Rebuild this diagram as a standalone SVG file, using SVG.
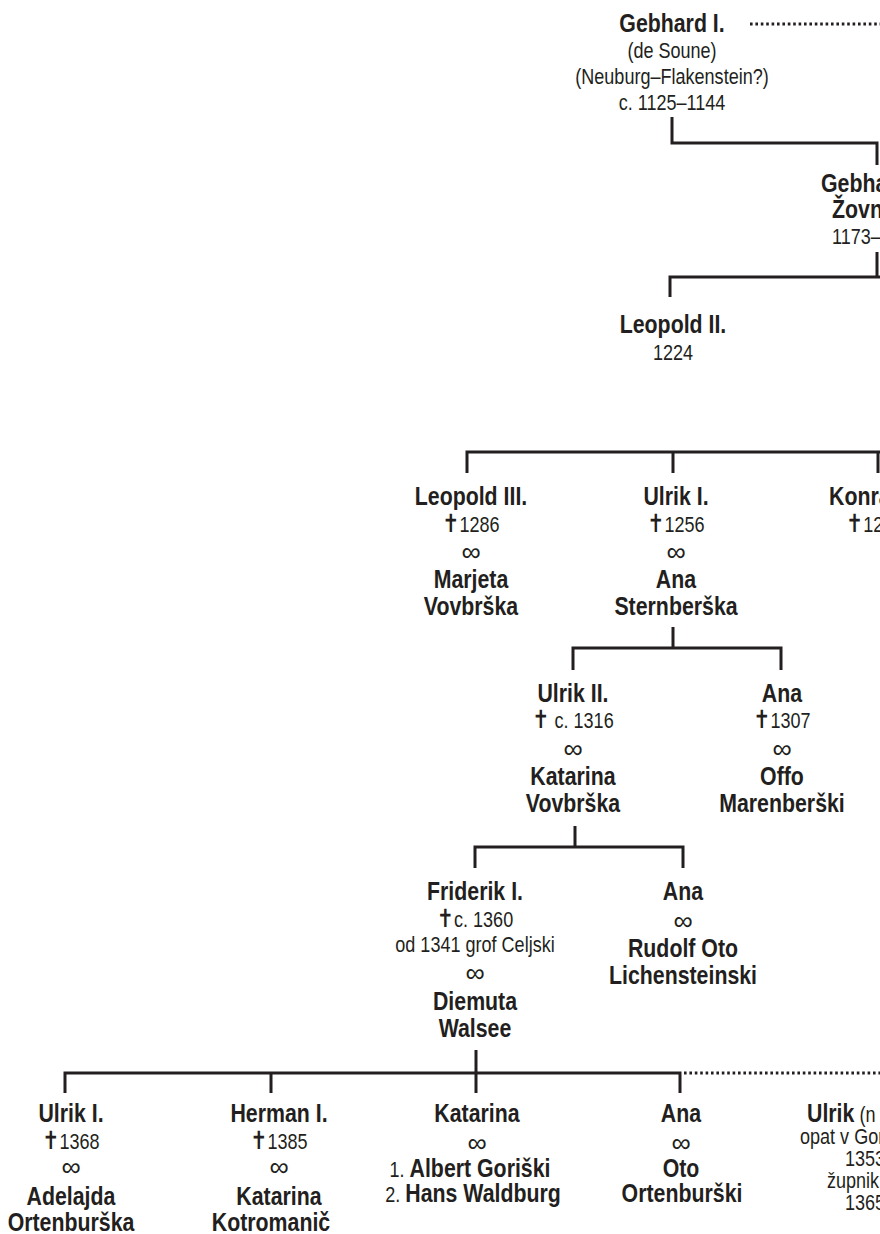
<svg xmlns="http://www.w3.org/2000/svg" width="880" height="1234" viewBox="0 0 880 1234">
<style>
text{font-family:"Liberation Sans",Arial,sans-serif;fill:#231f20;text-anchor:middle}
.b{font-weight:bold;font-size:26px}
.l{font-weight:normal;font-size:22px}
.s{text-anchor:start}
.c{font-family:"DejaVu Sans",sans-serif;font-weight:bold;font-size:25px}
.i{font-weight:normal;font-size:27px}
.ln{fill:none;stroke:#231f20;stroke-width:3}
.dot{fill:none;stroke:#231f20;stroke-width:3;stroke-dasharray:2.6 2.8}
</style>
<rect width="880" height="1234" fill="#fff"/>
<g id="connectors">
<path class="ln" d="M672,117V143H877V165"/>
<path class="ln" d="M877,252V277M880,277H670V297"/>
<path class="ln" d="M880,452H467V473M673,452V473M878,452V473"/>
<path class="ln" d="M673,627V648M573,670V648H781V670"/>
<path class="ln" d="M575,826V847M475,868V847H683V868"/>
<path class="ln" d="M476,1050V1073M65,1093V1073H680V1093M271,1073V1093M476,1073V1093"/>
<path class="dot" d="M750,24H880"/>
<path class="dot" d="M684,1073H880"/>
</g>
<g id="gebhard1">
<text class="b" transform="translate(672,32) scale(0.82,1)">Gebhard I.</text>
<text class="l" transform="translate(672,58) scale(0.82,1)">(de Soune)</text>
<text class="l" transform="translate(672,84) scale(0.82,1)">(Neuburg–Flakenstein?)</text>
<text class="l" transform="translate(672,110) scale(0.82,1)">c. 1125–1144</text>
</g>
<g id="gebhard2">
<text class="b s" transform="translate(821,192) scale(0.82,1)">Gebha</text>
<text class="b s" transform="translate(832,218) scale(0.82,1)">Žovn</text>
<text class="l s" transform="translate(832,244) scale(0.82,1)">1173–</text>
</g>
<g id="leopold2">
<text class="b" transform="translate(673,333) scale(0.82,1)">Leopold II.</text>
<text class="l" transform="translate(673,360) scale(0.82,1)">1224</text>
</g>
<g id="leopold3">
<text class="b" transform="translate(471,505) scale(0.82,1)">Leopold III.</text>
<text class="l" transform="translate(471,532) scale(0.82,1)"><tspan class="c">✝</tspan>1286</text>
<text class="i" x="471" y="561">∞</text>
<text class="b" transform="translate(471,588) scale(0.82,1)">Marjeta</text>
<text class="b" transform="translate(471,615) scale(0.82,1)">Vovbrška</text>
</g>
<g id="ulrik1">
<text class="b" transform="translate(676,505) scale(0.82,1)">Ulrik I.</text>
<text class="l" transform="translate(676,532) scale(0.82,1)"><tspan class="c">✝</tspan>1256</text>
<text class="i" x="676" y="561">∞</text>
<text class="b" transform="translate(676,588) scale(0.82,1)">Ana</text>
<text class="b" transform="translate(676,615) scale(0.82,1)">Sternberška</text>
</g>
<g id="konrad">
<text class="b s" transform="translate(829,505) scale(0.82,1)">Konra</text>
<text class="l s" transform="translate(846,532) scale(0.82,1)"><tspan class="c">✝</tspan>12</text>
</g>
<g id="ulrik2">
<text class="b" transform="translate(573,702) scale(0.82,1)">Ulrik II.</text>
<text class="l" transform="translate(573,728) scale(0.82,1)"><tspan class="c">✝</tspan> c. 1316</text>
<text class="i" x="573" y="758">∞</text>
<text class="b" transform="translate(573,785) scale(0.82,1)">Katarina</text>
<text class="b" transform="translate(573,812) scale(0.82,1)">Vovbrška</text>
</g>
<g id="ana1">
<text class="b" transform="translate(782,702) scale(0.82,1)">Ana</text>
<text class="l" transform="translate(782,728) scale(0.82,1)"><tspan class="c">✝</tspan>1307</text>
<text class="i" x="782" y="758">∞</text>
<text class="b" transform="translate(782,785) scale(0.82,1)">Offo</text>
<text class="b" transform="translate(782,812) scale(0.82,1)">Marenberški</text>
</g>
<g id="friderik1">
<text class="b" transform="translate(475,900) scale(0.82,1)">Friderik I.</text>
<text class="l" transform="translate(475,927) scale(0.82,1)"><tspan class="c">✝</tspan>c. 1360</text>
<text class="l" transform="translate(475,952) scale(0.82,1)">od 1341 grof Celjski</text>
<text class="i" x="475" y="982">∞</text>
<text class="b" transform="translate(475,1010) scale(0.82,1)">Diemuta</text>
<text class="b" transform="translate(475,1037) scale(0.82,1)">Walsee</text>
</g>
<g id="ana2">
<text class="b" transform="translate(683,900) scale(0.82,1)">Ana</text>
<text class="i" x="683" y="930">∞</text>
<text class="b" transform="translate(683,957) scale(0.82,1)">Rudolf Oto</text>
<text class="b" transform="translate(683,984) scale(0.82,1)">Lichensteinski</text>
</g>
<g id="ulrik1b">
<text class="b" transform="translate(71,1122) scale(0.82,1)">Ulrik I.</text>
<text class="l" transform="translate(71,1149) scale(0.82,1)"><tspan class="c">✝</tspan>1368</text>
<text class="i" x="71" y="1176">∞</text>
<text class="b" transform="translate(71,1205) scale(0.82,1)">Adelajda</text>
<text class="b" transform="translate(71,1231) scale(0.82,1)">Ortenburška</text>
</g>
<g id="herman1">
<text class="b" transform="translate(279,1122) scale(0.82,1)">Herman I.</text>
<text class="l" transform="translate(279,1149) scale(0.82,1)"><tspan class="c">✝</tspan>1385</text>
<text class="i" x="279" y="1176">∞</text>
<text class="b" transform="translate(279,1205) scale(0.82,1)">Katarina</text>
<text class="b" transform="translate(271,1231) scale(0.82,1)">Kotromanič</text>
</g>
<g id="katarina">
<text class="b" transform="translate(477,1122) scale(0.82,1)">Katarina</text>
<text class="i" x="477" y="1152">∞</text>
<text class="l" transform="translate(470,1177) scale(0.82,1)">1. <tspan font-weight="bold" font-size="26">Albert Goriški</tspan></text>
<text class="l" transform="translate(473,1202) scale(0.82,1)">2. <tspan font-weight="bold" font-size="26">Hans Waldburg</tspan></text>
</g>
<g id="ana3">
<text class="b" transform="translate(681,1122) scale(0.82,1)">Ana</text>
<text class="i" x="681" y="1152">∞</text>
<text class="b" transform="translate(681,1177) scale(0.82,1)">Oto</text>
<text class="b" transform="translate(682,1202) scale(0.82,1)">Ortenburški</text>
</g>
<g id="ulrik3">
<text class="b s" transform="translate(807,1122) scale(0.82,1)">Ulrik<tspan font-weight="normal" font-size="22"> (n</tspan></text>
<text class="l s" transform="translate(800,1144) scale(0.82,1)">opat v Gor</text>
<text class="l s" transform="translate(845,1166) scale(0.82,1)">1353</text>
<text class="l s" transform="translate(827,1188) scale(0.82,1)">župnik</text>
<text class="l s" transform="translate(845,1210) scale(0.82,1)">1365</text>
</g>
</svg>
